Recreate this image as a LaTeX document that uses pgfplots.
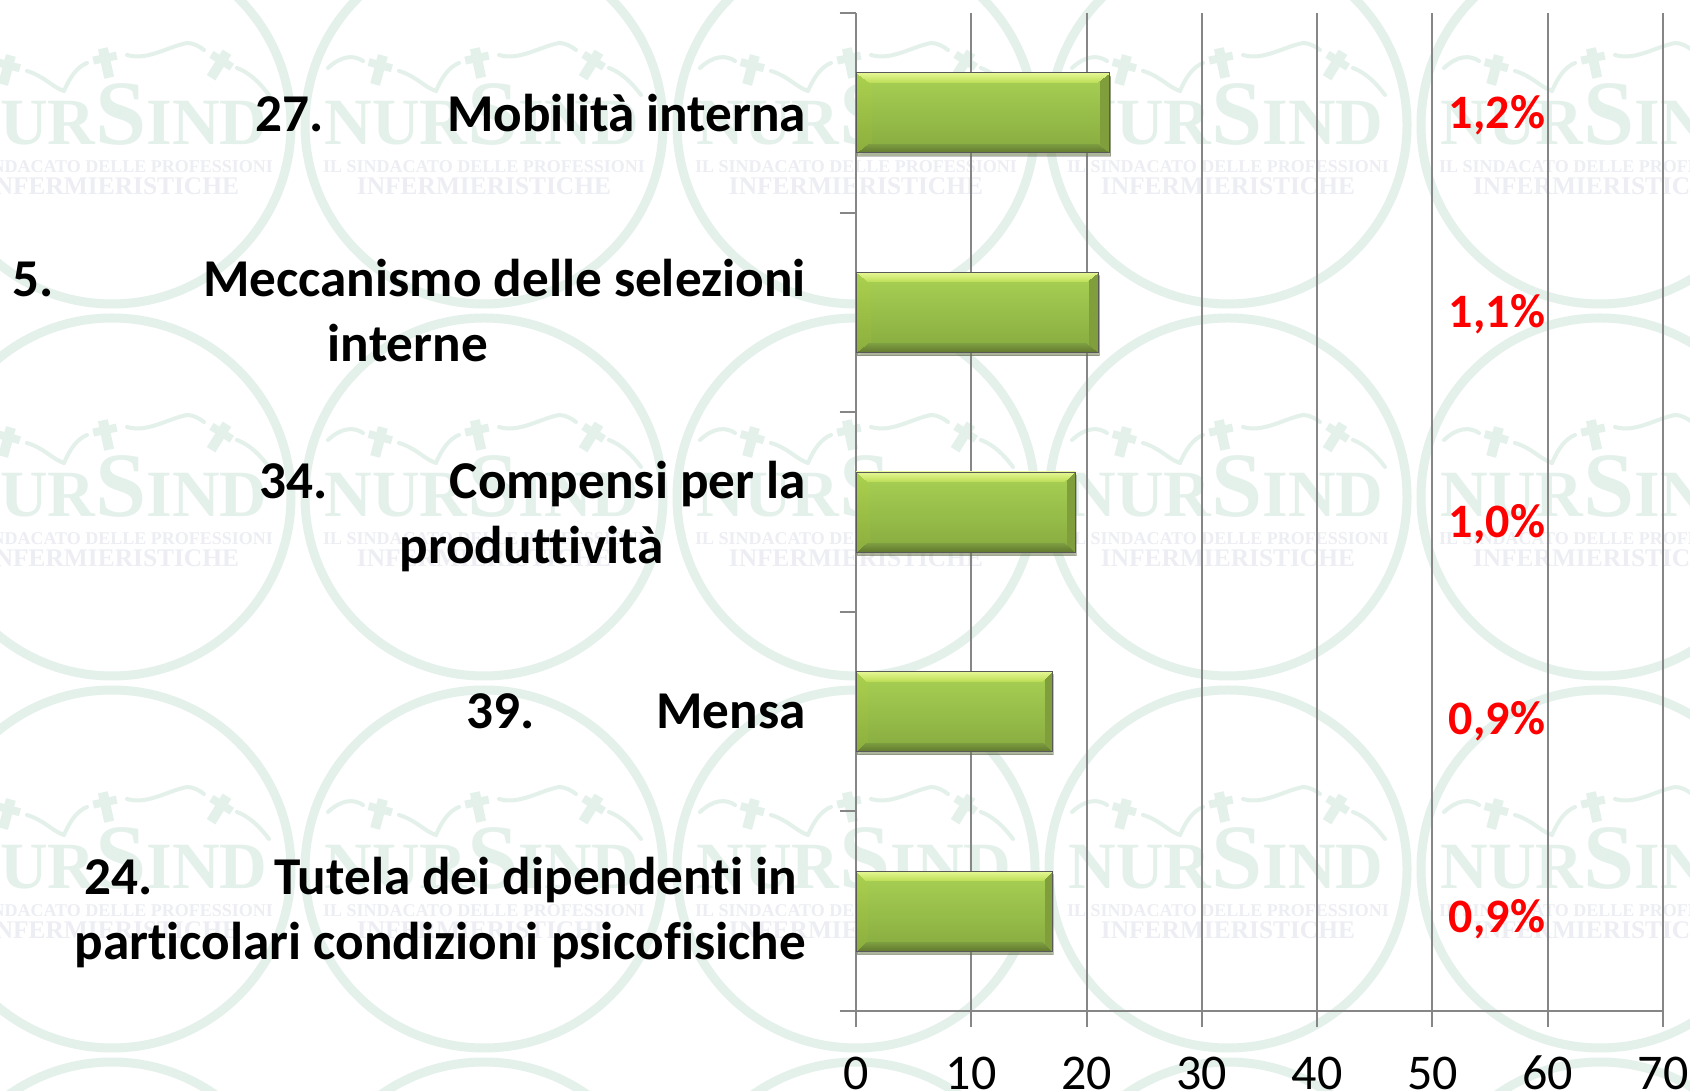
\documentclass[border=0pt]{standalone}
\usepackage{fontspec}
\usepackage{pgfplots}
\pgfplotsset{compat=1.18}
\usepackage{pgfplotstable}
\usetikzlibrary{shadows}
\setmainfont[Ligatures=NoCommon]{Carlito}
\newfontfamily\wmfont{Liberation Serif}
\definecolor{wmgreen}{HTML}{E4F1EB}
\definecolor{wmgrey}{HTML}{ECEEF3}
\definecolor{axisgrey}{HTML}{868686}
\pgfdeclarefunctionalshading{bevelbar}{\pgfpoint{-50bp}{-50bp}}{\pgfpoint{50bp}{50bp}}{}{
 25 add 50 div exch 25 add 50 div exch
 dup 0.88 gt
 2 index 0.05 div 2 index 1 exch sub 0.12 div gt and
 2 index 1 exch sub 0.05 div 2 index 1 exch sub 0.12 div gt and
 { exch pop 0.88 sub 0.12 div dup 0.16 mul 0.74 add exch dup 0.10 mul 0.87 add exch 0.24 mul 0.34 add }
 { dup 0.12 lt
   2 index 0.05 div 2 index 0.12 div gt and
   2 index 1 exch sub 0.05 div 2 index 0.12 div gt and
   { exch pop 0.12 div dup 0.12 mul 0.38 add exch dup 0.16 mul 0.47 add exch 0.08 mul 0.18 add }
   { 1 index 0.96 gt
     { pop pop 0.50 0.62 0.23 }
     { 1 index 0.06 lt
       { exch pop dup 0.12 mul 0.55 add exch dup 0.14 mul 0.68 add exch 0.07 mul 0.24 add }
       { exch pop dup 0.13 mul 0.53 add exch dup 0.15 mul 0.67 add exch 0.08 mul 0.25 add }
       ifelse }
     ifelse }
   ifelse }
 ifelse
}
\newcommand{\lline}[4]{\makebox[402.5pt][l]{\hspace*{#1}#2\hfill #3\hspace*{#4}}}
\newcommand{\wm}[2]{%
 \begin{scope}[shift={(#1,#2)}]
  \draw[wmgreen,line width=4.5pt] (0,0) circle (179);
  \node[wmgreen,inner sep=0,anchor=base] at (-2,-20) {\wmfont\bfseries\fontsize{33}{33}\selectfont NUR\fontsize{46}{46}\selectfont S\fontsize{33}{33}\selectfont IND};
  \node[wmgrey,inner sep=0] at (0,-42) {\wmfont\bfseries\fontsize{9}{10}\selectfont IL SINDACATO DELLE PROFESSIONI};
  \node[wmgrey,inner sep=0] at (0,-61) {\wmfont\bfseries\fontsize{12.7}{13}\selectfont INFERMIERISTICHE};
  \foreach \cxx/\cyy/\rr in {-105/55/-15,-6/62/12,107/60/-32}{
   \begin{scope}[shift={(\cxx,\cyy)},rotate=\rr]
    \fill[wmgreen] (-5,-15) rectangle (5,15);
    \fill[wmgreen] (-12,1) rectangle (12,9);
   \end{scope}}
  \draw[wmgreen,line width=2pt,line cap=round] (-156,57) .. controls (-142,70) and (-130,70) .. (-121,64);
  \draw[wmgreen,line width=2pt,line cap=round] (-85,54) .. controls (-68,49) and (-60,38) .. (-48,34);
  \draw[wmgreen,line width=2pt,line cap=round] (-48,34) .. controls (-42,48) and (-35,58) .. (-25,62);
  \draw[wmgreen,line width=2pt,line cap=round] (15,70) .. controls (35,64) and (55,78) .. (75,82) .. controls (82,82) and (88,78) .. (92,75);
  \draw[wmgreen,line width=2pt,line cap=round] (125,57) .. controls (138,52) and (148,42) .. (157,30);
 \end{scope}}
\pgfplotstableread{
x y label
55.6 4.99 1,2\%
55.6 3.99 1,1\%
55.6 2.94 1,0\%
55.6 1.95 0,9\%
55.6 0.96 0,9\%
}\pct
\begin{document}
\begin{tikzpicture}[x=0.5pt,y=0.5pt]
\path[use as bounding box] (0,0) rectangle (1690,1091);
\clip (0,0) rectangle (1690,1091);
\fill[white] (0,0) rectangle (1690,1091);
\foreach \X in {112,484,856,1228,1600}{
 \foreach \Y in {966,594,222,-150}{
  \wm{\X}{\Y}
 }}
\begin{axis}[
 at={(428pt,40pt)},anchor=south west,
 scale only axis,width=403.5pt,height=499pt,
 xmin=0,xmax=70,ymin=0.5,ymax=5.5,
 axis y line*=left,axis x line*=bottom,
 axis line style={-,draw=axisgrey,line width=1pt},
 xtick={0,10,...,70},
 ytick={0.5,1.5,2.5,3.5,4.5,5.5},
 y tick label as interval,
 xmajorgrids,
 major grid style={draw=axisgrey,line width=1pt},
 tick align=outside,
 major tick length=8.2pt,
 xtick style={draw=axisgrey,line width=1pt},
 ytick style={draw=axisgrey,line width=1pt},
 clip=false,
 /pgf/number format/assume math mode=true,
 xticklabel style={font=\fontsize{25}{25}\selectfont,inner sep=0pt,yshift=-15pt,text height=16pt,text depth=0pt},
 yticklabel style={anchor=east,inner sep=0pt,xshift=-16.7pt,font=\fontsize{26.6}{32.5}\selectfont\bfseries},
 yticklabels={
  {\parbox[c]{402.5pt}{\raggedright\vspace*{1.6pt}\lline{42pt}{24.}{Tutela dei dipendenti in}{4.5pt}\\\lline{0pt}{}{particolari condizioni psicofisiche}{0pt}}},
  {\lline{233pt}{39.}{Mensa}{0pt}},
  {\parbox[c]{402.5pt}{\raggedright\vspace*{4.3pt}\lline{129.5pt}{34.}{Compensi per la}{0pt}\\\lline{0pt}{}{produttività}{71pt}}},
  {\parbox[c]{402.5pt}{\raggedright\lline{6pt}{5.}{Meccanismo delle selezioni}{0pt}\\\lline{0pt}{}{interne}{159pt}\endgraf\vspace*{2pt}}},
  {\lline{127.5pt}{27.}{Mobilità interna}{0pt}}
 },
 mybar/.style={xbar,/pgf/bar shift=0pt,bar width=40pt,draw=black!30!gray,line width=0.4pt,shade,shading=bevelbar,
  drop shadow={shadow xshift=0.6pt,shadow yshift=-1.6pt,opacity=0.35},forget plot},
]
\addplot[mybar] coordinates {(17,1)};
\addplot[mybar] coordinates {(17,2)};
\addplot[mybar] coordinates {(19,3)};
\addplot[mybar] coordinates {(21,4)};
\addplot[mybar] coordinates {(22,5)};
\addplot[only marks,mark=none,
 point meta=explicit symbolic,
 nodes near coords,
 nodes near coords align={center},
 every node near coord/.append style={text=red,inner sep=0pt,font=\fontsize{24}{24}\selectfont\bfseries}]
 table[x=x,y=y,meta=label]{\pct};
\end{axis}
\end{tikzpicture}
\end{document}
